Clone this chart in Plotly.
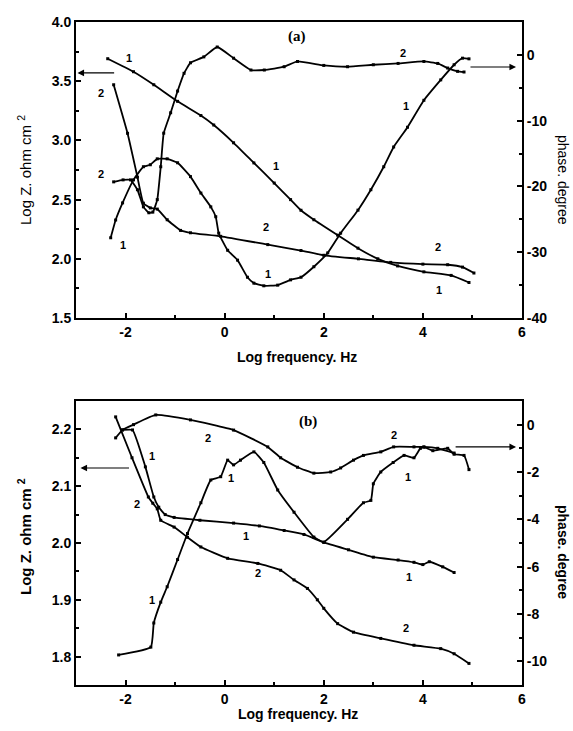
import plotly.graph_objects as go

# ---------------- data: panel (a) ----------------
a_z1_x = [-2.36, -1.84, -1.43, -0.95, -0.48, -0.22, 0.18, 0.59, 1.0, 1.33, 1.54, 1.8, 2.28, 2.69, 3.09, 3.49, 4.02, 4.57, 4.93]
a_z1_y = [3.69, 3.58, 3.47, 3.33, 3.21, 3.13, 2.98, 2.81, 2.64, 2.50, 2.41, 2.33, 2.20, 2.09, 2.00, 1.94, 1.89, 1.86, 1.80]

a_z2_x = [-2.24, -1.96, -1.76, -1.64, -1.5, -1.36, -1.16, -0.89, -0.69, -0.08, 0.87, 1.54, 2.0, 2.7, 3.35, 4.0, 4.5, 4.8, 5.03]
a_z2_y = [3.47, 3.06, 2.69, 2.47, 2.43, 2.42, 2.33, 2.24, 2.22, 2.19, 2.12, 2.07, 2.03, 2.00, 1.97, 1.955, 1.95, 1.93, 1.88]

a_p1_x = [-2.3, -2.2, -2.06, -1.84, -1.64, -1.5, -1.36, -1.16, -0.95, -0.69, -0.48, -0.28, -0.18, -0.12, 0.06, 0.26, 0.46, 0.59, 0.79, 1.07, 1.33, 1.54, 1.8, 2.08, 2.34, 2.69, 2.95, 3.21, 3.41, 3.69, 4.02, 4.36, 4.63, 4.8, 4.93]
a_p1_y = [-27.8, -25.1, -22.5, -19.0, -17.0, -16.7, -15.8, -15.8, -16.4, -18.5, -21.0, -23.1, -24.6, -27.1, -29.7, -31.2, -33.8, -34.7, -35.1, -35.0, -34.2, -33.8, -32.2, -30.1, -27.1, -23.6, -20.5, -17.0, -14.0, -11.0, -6.9, -3.8, -1.5, -0.5, -0.6]

a_p2_x = [-2.24, -2.05, -1.9, -1.76, -1.64, -1.53, -1.45, -1.36, -1.29, -1.23, -1.09, -0.95, -0.82, -0.69, -0.42, -0.15, 0.18, 0.53, 0.8, 1.2, 1.47, 2.0, 2.48, 3.0, 3.5, 4.02, 4.3, 4.5, 4.7, 4.83]
a_p2_y = [-19.3, -19.0, -19.0, -20.5, -23.1, -24.0, -23.9, -22.0, -17.0, -11.9, -8.8, -5.5, -2.8, -1.2, -0.3, 1.2, -0.5, -2.3, -2.3, -1.8, -1.0, -1.6, -1.8, -1.5, -1.3, -1.0, -1.3, -2.0, -2.5, -2.6]

# ---------------- data: panel (b) ----------------
b_z1_x = [-2.06, -1.86, -1.6, -1.43, -1.33, -1.2, -1.02, -0.5, 0.18, 0.7, 1.2, 1.6, 2.0, 2.5, 3.0, 3.5, 3.82, 4.0, 4.13, 4.4, 4.63]
b_z1_y = [2.199, 2.199, 2.134, 2.081, 2.063, 2.05, 2.045, 2.04, 2.035, 2.03, 2.022, 2.015, 2.001, 1.988, 1.975, 1.97, 1.966, 1.962, 1.967, 1.958, 1.948]

b_z2_x = [-2.2, -1.87, -1.54, -1.45, -1.36, -1.29, -1.02, -0.75, -0.48, 0.06, 0.67, 1.13, 1.4, 1.67, 1.87, 2.0, 2.28, 2.6, 3.15, 3.82, 4.36, 4.63, 4.93]
b_z2_y = [2.222, 2.15, 2.081, 2.07, 2.06, 2.04, 2.028, 2.01, 1.993, 1.973, 1.964, 1.952, 1.935, 1.92, 1.90, 1.885, 1.858, 1.843, 1.832, 1.820, 1.814, 1.805, 1.788]

b_p1_x = [-2.14, -1.49, -1.43, -1.29, -1.16, -0.95, -0.75, -0.48, -0.28, -0.08, 0.06, 0.18, 0.32, 0.59, 0.79, 1.07, 1.4, 1.8, 2.0, 2.48, 2.8, 2.95, 3.0, 3.15, 3.4, 3.62, 3.82, 3.95, 4.02, 4.2, 4.5, 4.63, 4.83, 4.93]
b_p1_y = [-9.73, -9.4, -8.38, -7.5, -6.85, -5.7, -4.6, -3.3, -2.34, -2.2, -1.5, -1.7, -1.5, -1.15, -1.6, -2.76, -3.7, -4.75, -4.96, -4.0, -3.3, -3.2, -2.5, -2.0, -1.6, -1.3, -1.4, -1.0, -0.95, -1.1, -1.0, -1.25, -1.3, -1.9]

b_p2_x = [-2.2, -2.06, -1.84, -1.39, -0.69, 0.18, 0.87, 1.13, 1.47, 1.8, 2.14, 2.34, 2.6, 2.8, 3.15, 3.41, 3.82, 4.02, 4.3, 4.63]
b_p2_y = [-0.56, -0.22, 0.0, 0.41, 0.2, -0.23, -0.94, -1.4, -1.8, -2.05, -2.0, -1.83, -1.5, -1.3, -1.15, -0.94, -0.94, -0.94, -1.0, -1.2]

# tick values
x_ticks = [-2, 0, 2, 4, 6]
a_left_ticks = [1.5, 2.0, 2.5, 3.0, 3.5, 4.0]
a_right_ticks = [-40, -30, -20, -10, 0]
b_left_ticks = [1.8, 1.9, 2.0, 2.1, 2.2]
b_right_ticks = [-10, -8, -6, -4, -2, 0]

# curve number labels (text, x, y) in left-axis coordinates
labels_a = [("1", -1.94, 3.70), ("2", -2.5, 3.40), ("2", -2.5, 2.72), ("1", -2.06, 2.12),
            ("1", 1.03, 2.78), ("2", 0.83, 2.27), ("1", 0.87, 1.87), ("2", 3.6, 3.74),
            ("1", 3.66, 3.29), ("2", 4.3, 2.10), ("1", 4.32, 1.74)]
labels_b = [("2", -0.34, 2.185), ("1", -1.46, 2.153), ("1", 0.12, 2.114), ("2", -1.76, 2.068),
            ("1", 0.44, 2.012), ("2", 0.67, 1.947), ("1", -1.46, 1.899), ("2", 3.41, 2.19),
            ("1", 3.69, 2.116), ("1", 3.72, 1.941), ("2", 3.66, 1.851)]

BLACK = "black"
FONT = "Liberation Sans, Arial, sans-serif"

fig = go.Figure()


def add_curve(x, y, xa, ya):
    fig.add_trace(go.Scatter(
        x=x, y=y, xaxis=xa, yaxis=ya, mode="lines+markers",
        line=dict(color=BLACK, width=1.8, shape="spline", smoothing=0.4),
        marker=dict(symbol="square", size=3, color=BLACK),
        showlegend=False, hoverinfo="skip"))


add_curve(a_z1_x, a_z1_y, "x", "y")
add_curve(a_z2_x, a_z2_y, "x", "y")
add_curve(a_p1_x, a_p1_y, "x", "y2")
add_curve(a_p2_x, a_p2_y, "x", "y2")
add_curve(b_z1_x, b_z1_y, "x2", "y3")
add_curve(b_z2_x, b_z2_y, "x2", "y3")
add_curve(b_p1_x, b_p1_y, "x2", "y4")
add_curve(b_p2_x, b_p2_y, "x2", "y4")

tickfont = dict(family=FONT, size=14, color=BLACK)
common = dict(showline=True, linewidth=2, linecolor=BLACK, showgrid=False, zeroline=False,
              ticks="inside", ticklen=5, tickwidth=1.5, tickcolor=BLACK, tickfont=tickfont,
              tickmode="array")


def bold_ticks(vals, fmt):
    return dict(tickvals=vals, ticktext=["<b>" + format(v, fmt) + "</b>" for v in vals])


def minor(dt):
    return dict(ticks="inside", tickmode="linear", dtick=dt, tick0=0, ticklen=3, tickwidth=1.5, tickcolor=BLACK)


def xax(anchor):
    return dict(common, domain=[0, 1], anchor=anchor, range=[-3, 6], mirror=True,
                minor=minor(1), **bold_ticks(x_ticks, "d"))


top_dom = [0.5535, 1.0]
bot_dom = [0.0, 0.4284]

fig.update_layout(
    width=573, height=731,
    margin=dict(l=76, r=51, t=22, b=46),
    paper_bgcolor="white", plot_bgcolor="white",
    xaxis=xax("y"),
    xaxis2=xax("y3"),
    yaxis=dict(common, domain=top_dom, anchor="x", range=[1.5, 4.0], mirror=True,
               minor=minor(0.25), **bold_ticks(a_left_ticks, ".1f")),
    yaxis2=dict(common, overlaying="y", side="right", anchor="x", range=[-40, 5],
                minor=minor(5), **bold_ticks(a_right_ticks, "d")),
    yaxis3=dict(common, domain=bot_dom, anchor="x2", range=[1.75, 2.25], mirror=True,
                minor=minor(0.05), **bold_ticks(b_left_ticks, ".1f")),
    yaxis4=dict(common, overlaying="y3", side="right", anchor="x2", range=[-11, 1],
                minor=minor(1), **bold_ticks(b_right_ticks, "d")),
)

ann = []
lab_font = dict(family=FONT, size=11, color=BLACK, weight="bold")
for t, x, y in labels_a:
    ann.append(dict(text="<b>" + t + "</b>", x=x, y=y, xref="x", yref="y", showarrow=False,
                    xanchor="center", yanchor="middle", font=lab_font))
for t, x, y in labels_b:
    ann.append(dict(text="<b>" + t + "</b>", x=x, y=y, xref="x2", yref="y3", showarrow=False,
                    xanchor="center", yanchor="middle", font=lab_font))

# arrows pointing to the relevant axes
arrow = dict(text="", showarrow=True, arrowhead=2, arrowsize=1.1, arrowwidth=1.2, arrowcolor=BLACK)
ann.append(dict(arrow, x=-2.97, y=3.57, ax=-2.2, ay=3.57, xref="x", yref="y", axref="x", ayref="y"))
ann.append(dict(arrow, x=5.88, y=-1.84, ax=4.93, ay=-1.84, xref="x", yref="y2", axref="x", ayref="y2"))
ann.append(dict(arrow, x=-2.91, y=2.132, ax=-1.9, ay=2.132, xref="x2", yref="y3", axref="x2", ayref="y3"))
ann.append(dict(arrow, x=5.88, y=-0.94, ax=4.63, ay=-0.94, xref="x2", yref="y4", axref="x2", ayref="y4"))


def paper_text(text, x_px, y_px, size, bold, angle=0, family=FONT):
    return dict(text=("<b>" + text + "</b>") if bold else text,
                x=(x_px - 76) / 446, y=(685 - y_px) / 663, xref="paper", yref="paper",
                xanchor="center", yanchor="middle", showarrow=False, textangle=angle,
                font=dict(family=family, size=size, color=BLACK))


SERIF = "Liberation Serif, Times New Roman, serif"
ann.append(paper_text("(a)", 297, 36, 15, True, family=SERIF))
ann.append(paper_text("(b)", 308, 421, 15, True, family=SERIF))
ann.append(paper_text("Log frequency. Hz", 297, 357, 14, True))
ann.append(paper_text("Log frequency. Hz", 298, 714, 14, True))
ann.append(paper_text("Log Z. ohm cm <sup>2</sup>", 24, 170, 15, False, angle=-90))
ann.append(paper_text("Log Z. ohm cm <sup>2</sup>", 24, 537, 15, True, angle=-90))
ann.append(paper_text("phase. degree", 563, 180, 14, False, angle=90))
ann.append(paper_text("phase. degree", 563, 552, 14, True, angle=90))

fig.update_layout(annotations=ann)

fig.write_html("out.html")
